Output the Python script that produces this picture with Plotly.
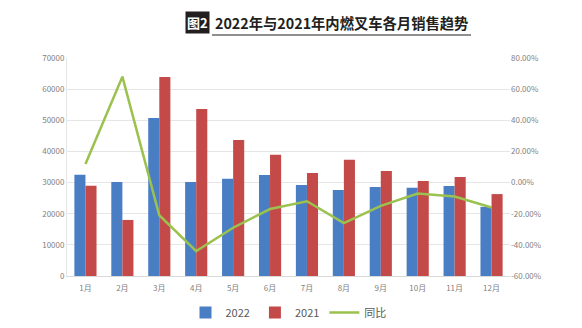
import plotly.graph_objects as go

months = ["1月", "2月", "3月", "4月", "5月", "6月", "7月", "8月", "9月", "10月", "11月", "12月"]
sales_2022 = [32500, 30200, 50700, 30200, 31200, 32400, 29200, 27600, 28600, 28300, 28900, 22200]
sales_2021 = [29000, 18000, 63900, 53600, 43700, 38900, 33100, 37300, 33700, 30500, 31800, 26300]
yoy_pct = [12, 68, -21, -44, -29, -17, -12, -26, -15, -7, -9, -16]

left_ticks = [0, 10000, 20000, 30000, 40000, 50000, 60000, 70000]
right_ticks = [-60, -40, -20, 0, 20, 40, 60, 80]
right_labels = ["%.2f%%" % v for v in right_ticks]

font_main = "Noto Sans CJK SC, Noto Sans, sans-serif"
tick_font = dict(family=font_main, size=8, color="#7f7f7f")

W, H = 582, 328
ML, MR, MT, MB = 67, 72, 58, 52
pw = W - ML - MR
ph = H - MT - MB


def px(x):
    return (x - ML) / pw


def py(y):
    return (H - MB - y) / ph


fig = go.Figure()
fig.add_trace(go.Bar(x=months, y=sales_2022, name="2022", marker_color="#4a7ec4",
                     marker_line_width=0))
fig.add_trace(go.Bar(x=months, y=sales_2021, name="2021", marker_color="#c34a48",
                     marker_line_width=0))
fig.add_trace(go.Scatter(x=months, y=yoy_pct, name="同比", mode="lines",
                         line=dict(color="#9bc14f", width=2.5), yaxis="y2"))

fig.update_layout(
    width=W, height=H,
    margin=dict(l=ML, r=MR, t=MT, b=MB, autoexpand=False),
    paper_bgcolor="white", plot_bgcolor="white",
    barmode="group", bargap=0.4, bargroupgap=0,
    showlegend=True,
    legend=dict(orientation="h", x=0.5, xanchor="center", y=py(298), yanchor="top",
                font=dict(family=font_main, size=11, color="#595959"),
                itemwidth=30, traceorder="normal", tracegroupgap=0),
    xaxis=dict(showgrid=False, showline=True, linecolor="#d9d9d9", linewidth=1,
               ticks="", tickfont=tick_font, ticklabelstandoff=4),
    yaxis=dict(range=[0, 70000], tickvals=left_ticks, tickformat="d", showgrid=True,
               gridcolor="#e6e6e6", gridwidth=1, zeroline=False, showline=True,
               linecolor="#e6e6e6", tickfont=tick_font, ticks=""),
    yaxis2=dict(range=[-60, 80], tickvals=right_ticks, ticktext=right_labels,
                overlaying="y", side="right", showgrid=False, zeroline=False,
                tickfont=tick_font, ticks=""),
    annotations=[
        dict(text="<b>图2</b>", x=px(210), y=py(23), xref="paper", yref="paper",
             xanchor="right", yanchor="middle",
             showarrow=False, font=dict(family=font_main, size=13, color="white"),
             bgcolor="#231f20", borderpad=1),
        dict(text="<b>2022年与2021年内燃叉车各月销售趋势</b>", x=px(213), y=py(23),
             xref="paper", yref="paper", xanchor="left", yanchor="middle",
             showarrow=False,
             font=dict(family=font_main, size=14.3, color="#231f20")),
    ],
)

# underline for title
fig.add_shape(type="line", xref="paper", yref="paper",
              x0=px(212), x1=px(471), y0=py(35), y1=py(35),
              line=dict(color="#231f20", width=1.2))

fig.write_html("out.html")
